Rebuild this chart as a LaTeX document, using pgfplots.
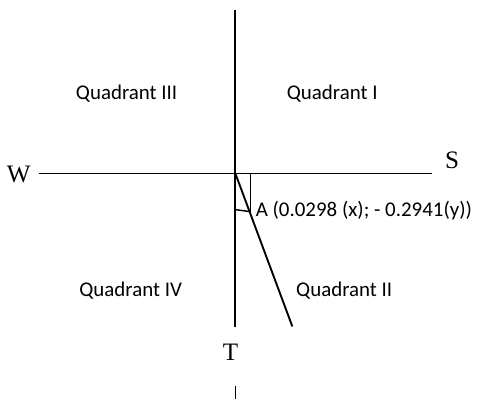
\documentclass[border=0pt]{standalone}
\usepackage{pgfplots}
\pgfplotsset{compat=1.18}
\usepackage{fontspec}
\setmainfont{Carlito}
\newfontfamily\serif{Liberation Serif}

\begin{document}
\begin{tikzpicture}
\begin{axis}[
    scale only axis,
    width=8cm, height=6.709cm,
    xmin=0, xmax=477, ymin=0, ymax=400,
    y dir=reverse,
    hide axis,
    clip=false,
    cycle list={{black, line width=0.9pt, no marks}},
  ]
  % invisible frame so the page keeps the reference's size
  \addplot[draw=none] coordinates {(0,0) (477,400)};

  % axes of the quadrant diagram
  \addplot coordinates {(235,10) (235,328)};
  \addplot coordinates {(235,387) (235,400)};
  \addplot coordinates {(38,174) (432,174)};

  % direction line and its components
  \addplot coordinates {(235,174) (292,327)};
  \addplot+[line width=0.7pt] coordinates {(250,174) (250,213)};
  \addplot+[line width=0.7pt] coordinates {(235,210) (250,212)};

  \node[font=\serif\fontsize{12}{12}\selectfont] at (axis cs:18,175) {W};
  \node[font=\serif\fontsize{12}{12}\selectfont] at (axis cs:452,161) {S};
  \node[font=\serif\fontsize{12}{12}\selectfont] at (axis cs:230,353) {T};

  \node[font=\fontsize{10}{10}\selectfont] at (axis cs:126,94) {Quadrant III};
  \node[font=\fontsize{10}{10}\selectfont] at (axis cs:332,94) {Quadrant I};
  \node[font=\fontsize{10}{10}\selectfont] at (axis cs:130,291) {Quadrant IV};
  \node[font=\fontsize{10}{10}\selectfont] at (axis cs:344,291) {Quadrant II};
  \node[font=\fontsize{10}{10}\selectfont, anchor=west, inner sep=0pt] at (axis cs:255,211) {A (0.0298 (x); - 0.2941(y))};
\end{axis}
\end{tikzpicture}
\end{document}
